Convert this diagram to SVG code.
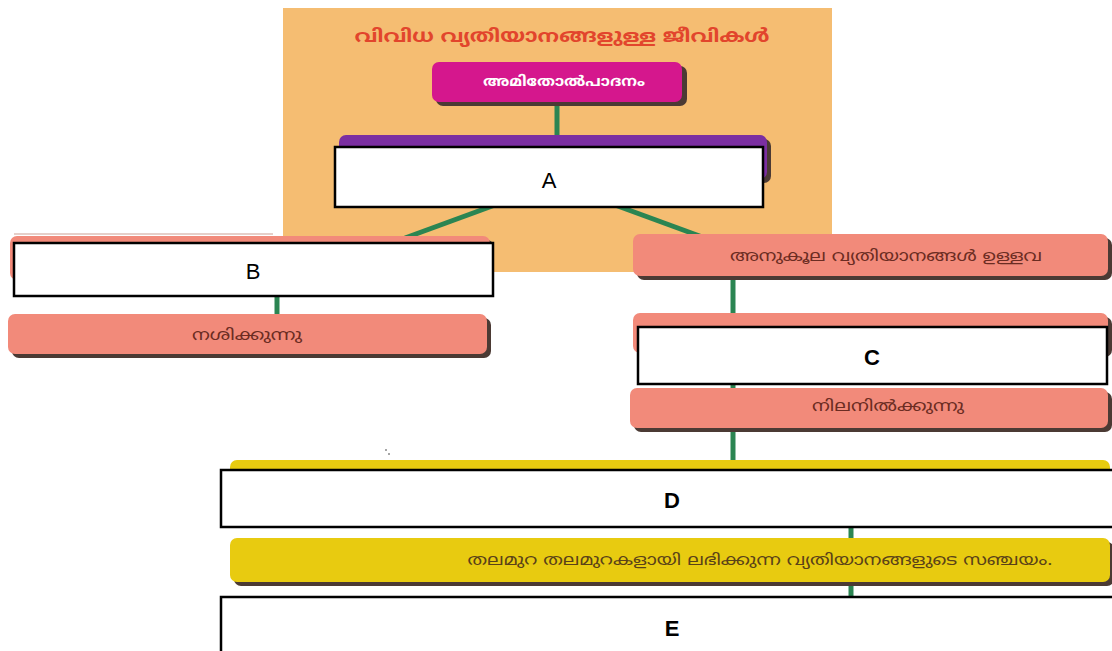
<svg xmlns="http://www.w3.org/2000/svg" width="1112" height="651" viewBox="0 0 1112 651">
<style>
.ml{font-family:"Noto Sans Malayalam","Noto Sans",sans-serif;text-anchor:middle;dominant-baseline:central}
.lbl{font-family:"Liberation Sans",Arial,sans-serif;font-size:22px;text-anchor:middle;dominant-baseline:central;fill:#000}
.b{font-weight:bold}
.wbox{fill:#fff;stroke:#000;stroke-width:2.5}
.sh{fill:#4b3a34}
.sal{fill:#f28a7a}
.yel{fill:#e8cb10}
.con{stroke:#2b8552;stroke-width:5;fill:none}
.txs{font-size:15px;fill:#6b2c22}
</style>
<rect width="1112" height="651" fill="#fff"/>
<rect id="bg" x="283" y="8" width="549" height="264" fill="#f5bd72"/>
<line x1="14" y1="234" x2="273" y2="234" stroke="#e6cfc9" stroke-width="2"/>
<g id="connectors">
<line class="con" x1="557" y1="103" x2="557" y2="146"/>
<line class="con" x1="495" y1="205" x2="405" y2="238"/>
<line class="con" x1="615" y1="205" x2="705" y2="238"/>
<line class="con" x1="277" y1="294" x2="277" y2="316"/>
<line class="con" x1="733" y1="276" x2="733" y2="315"/>
<line class="con" x1="733" y1="382" x2="733" y2="390"/>
<line class="con" x1="733" y1="426" x2="733" y2="462"/>
<line class="con" x1="851" y1="525" x2="851" y2="540"/>
<line class="con" x1="851" y1="580" x2="851" y2="598"/>
</g>
<g id="title"><text class="ml" x="562" y="37" font-size="18" font-weight="bold" fill="#e2452c" textLength="415" lengthAdjust="spacingAndGlyphs">വിവിധ വ്യതിയാനങ്ങളുള്ള ജീവികൾ</text></g>
<g id="n-magenta">
<rect class="sh" x="436" y="66" width="251" height="40" rx="7"/>
<rect x="432" y="62" width="250" height="40" rx="7" fill="#d5178d"/>
<text class="ml" x="564" y="82" font-size="14" font-weight="bold" fill="#fff" textLength="162" lengthAdjust="spacingAndGlyphs">അമിതോൽപാദനം</text>
</g>
<g id="n-A">
<rect class="sh" x="343" y="139" width="428" height="44" rx="7"/>
<rect x="339" y="135" width="428" height="44" rx="7" fill="#7b2fa2"/>
<rect class="wbox" x="335" y="147" width="428" height="60"/>
<text class="lbl" x="549" y="180">A</text>
</g>
<g id="n-B">
<rect class="sh" x="14" y="240" width="480" height="44" rx="7"/>
<rect class="sal" x="10" y="236" width="480" height="44" rx="7"/>
<rect class="wbox" x="14" y="243" width="479" height="53"/>
<text class="lbl" x="253" y="271">B</text>
</g>
<g id="n-nash">
<rect class="sh" x="12" y="318" width="479" height="40" rx="7"/>
<rect class="sal" x="8" y="314" width="479" height="40" rx="7"/>
<text class="ml txs" x="247" y="336" textLength="110" lengthAdjust="spacingAndGlyphs">നശിക്കുന്നു</text>
</g>
<g id="n-anukula">
<rect class="sh" x="637" y="238" width="475" height="42" rx="7"/>
<rect class="sal" x="633" y="234" width="475" height="42" rx="7"/>
<text class="ml txs" x="886" y="257" textLength="312" lengthAdjust="spacingAndGlyphs">അനുകൂല വ്യതിയാനങ്ങൾ ഉള്ളവ</text>
</g>
<g id="n-C">
<rect class="sh" x="637" y="317" width="475" height="40" rx="7"/>
<rect class="sal" x="633" y="313" width="475" height="40" rx="7"/>
<rect class="wbox" x="638" y="327" width="469" height="57"/>
<text class="lbl b" x="872" y="357">C</text>
</g>
<g id="n-nila">
<rect class="sh" x="634" y="392" width="478" height="40" rx="7"/>
<rect class="sal" x="630" y="388" width="478" height="40" rx="7"/>
<text class="ml txs" x="888" y="407" textLength="152" lengthAdjust="spacingAndGlyphs">നിലനിൽക്കുന്നു</text>
</g>
<g id="n-D">
<rect class="yel" x="230" y="460" width="880" height="40" rx="7"/>
<rect class="wbox" x="221" y="470" width="895" height="57"/>
<text class="lbl b" x="672" y="500">D</text>
</g>
<g id="n-thala">
<rect class="sh" x="234" y="542" width="880" height="44" rx="7"/>
<rect class="yel" x="230" y="538" width="880" height="44" rx="7"/>
<text class="ml" x="760" y="561" font-size="15" fill="#5a4218" textLength="585" lengthAdjust="spacingAndGlyphs">തലമുറ തലമുറകളായി ലഭിക്കുന്ന വ്യതിയാനങ്ങളുടെ സഞ്ചയം.</text>
</g>
<g id="n-E">
<rect class="wbox" x="221" y="597" width="895" height="60"/>
<text class="lbl b" x="672" y="628">E</text>
</g>
<circle cx="386" cy="450" r="1" fill="#888"/>
<circle cx="389" cy="454" r="1" fill="#888"/>
</svg>
